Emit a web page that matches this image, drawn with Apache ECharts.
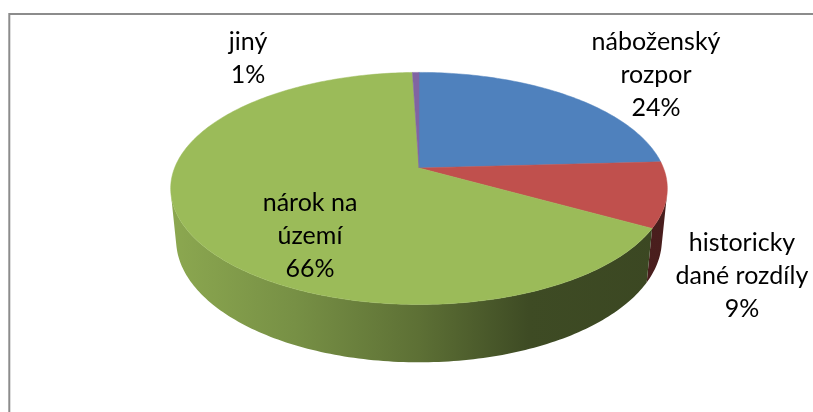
<!DOCTYPE html>
<html>
<head>
<meta charset="utf-8">
<script src="https://cdn.jsdelivr.net/npm/echarts@6/dist/echarts.min.js"></script>
<style>
  html, body { margin: 0; padding: 0; background: #fff; }
  #main { width: 813px; height: 412px; }
</style>
</head>
<body>
<div id="main"></div>
<script>
// data
var categories = ['náboženský\nrozpor', 'historicky\ndané rozdíly', 'nárok na\núzemí', 'jiný']
var values = [24, 9, 66, 0.5]
var colors = ['#4F81BD', '#C0504D', '#9BBB59', '#8064A2']
// label anchors, relative to pie centre
var labelOffsets = [[237, -93], [323, 108], [-109, 68], [-171, -110]]

var total = values.reduce(function (s, v) { return s + v }, 0)
var starts = []
var acc = 0
values.forEach(function (v) { starts.push(acc / total * 360); acc += v })

// simple perspective camera for the tilted disc
var pie = { cx: 419, cy: 168, k: 1232, d: 5.04, sin: 0.46, cos: 0.888, depth: 0.239 }
var rad = Math.PI / 180

function project(theta, h) {
  var X = Math.sin(theta * rad)
  var Z = -Math.cos(theta * rad)
  var w = pie.d - Z * pie.cos + h * pie.sin
  var v = Z * pie.sin + h * pie.cos
  return [pie.cx + pie.k * X / w, pie.cy + pie.k * v / w]
}

// visible part of the wall (tangent points seen from camera)
var zt = 1 / (pie.d * pie.cos)
var wallFrom = Math.acos(-zt) / rad
var wallTo = 360 - wallFrom

function shade(hex, f) {
  var n = parseInt(hex.slice(1), 16)
  var r = Math.round(((n >> 16) & 255) * f)
  var g = Math.round(((n >> 8) & 255) * f)
  var b = Math.round((n & 255) * f)
  return 'rgb(' + r + ',' + g + ',' + b + ')'
}

function sideFill(hex) {
  return {
    type: 'linear', x: 170, y: 0, x2: 668, y2: 0, global: true,
    colorStops: [
      { offset: 0, color: shade(hex, 0.9) },
      { offset: 0.25, color: shade(hex, 0.77) },
      { offset: 0.5, color: shade(hex, 0.6) },
      { offset: 0.72, color: shade(hex, 0.4) },
      { offset: 1, color: shade(hex, 0.38) }
    ]
  }
}

function renderSlice(params, api) {
  var i = params.dataIndex
  var a0 = starts[i]
  var a1 = a0 + api.value(1) / total * 360
  var children = []
  var t

  // side wall
  var lo = Math.max(a0, wallFrom)
  var hi = Math.min(a1, wallTo)
  if (hi > lo) {
    var wall = []
    for (t = lo; t < hi; t += 1) wall.push(project(t, 0))
    wall.push(project(hi, 0))
    for (t = hi; t > lo; t -= 1) wall.push(project(t, pie.depth))
    wall.push(project(lo, pie.depth))
    children.push({ type: 'polygon', shape: { points: wall }, style: { fill: sideFill(colors[i]) } })
  }

  // top face
  var top = [[pie.cx, pie.cy]]
  for (t = a0; t < a1; t += 1) top.push(project(t, 0))
  top.push(project(a1, 0))
  children.push({ type: 'polygon', shape: { points: top }, style: { fill: colors[i], stroke: colors[i], lineWidth: 0.5 } })

  // label
  var pct = Math.round(api.value(1) / total * 100) + '%'
  children.push({
    type: 'text',
    x: pie.cx + labelOffsets[i][0],
    y: pie.cy + labelOffsets[i][1],
    z2: 10,
    style: {
      text: categories[i] + '\n' + pct,
      align: 'center',
      verticalAlign: 'middle',
      fontFamily: 'Lato, "Open Sans", sans-serif',
      fontSize: 25,
      lineHeight: 33,
      fill: '#000'
    }
  })
  return { type: 'group', children: children }
}

var chart = echarts.init(document.getElementById('main'))
var option = {
  animation: false,
  backgroundColor: '#fff',
  graphic: [{
    type: 'rect',
    silent: true,
    shape: { x: 9.3, y: 14, width: 900, height: 500 },
    style: { fill: 'none', stroke: '#8c8c8c', lineWidth: 2 }
  }],
  series: [{
    type: 'custom',
    coordinateSystem: 'none',
    renderItem: renderSlice,
    data: values.map(function (v, i) { return [i, v] })
  }]
}
chart.setOption(option)
</script>
</body>
</html>
